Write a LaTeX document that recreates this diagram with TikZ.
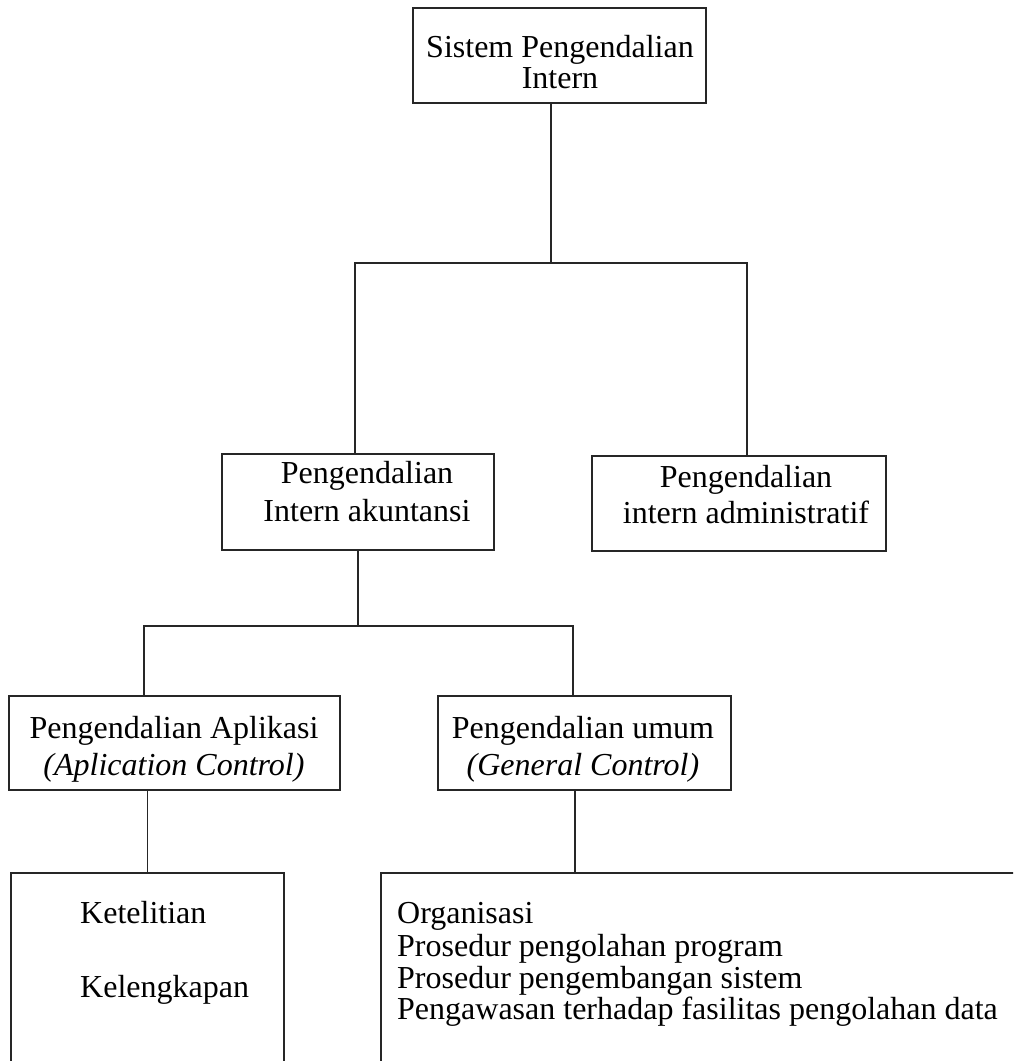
\documentclass[tikz,border=0pt]{standalone}
\usepackage{fontspec}
\setmainfont{Liberation Serif}

\tikzset{
  frame/.style={draw=black!85, line width=1.2pt, inner sep=0pt},
  teks/.style={font=\fontsize{32}{32}\selectfont, inner sep=0pt, align=center},
  daftar/.style={font=\fontsize{32}{32}\selectfont, inner sep=0pt, anchor=base west},
  garis/.style={draw=black!85, line width=1.2pt},
}

\begin{document}
\begin{tikzpicture}[x=1pt, y=-1pt]
\useasboundingbox (0,0) rectangle (1013,1061);
\clip (0,0) rectangle (1013,1061);

% kotak atas
\node[frame, minimum width=293pt, minimum height=95pt] (spi) at (559.5,55.5) {};
\node[teks, anchor=base] (spi-t) at (560,88) {Sistem Pengendalian\\[-1pt]Intern};

% baris kedua
\node[frame, minimum width=272pt, minimum height=96pt] (aku) at (358,502) {};
\node[teks, anchor=base] (aku-t) at (367,521) {Pengendalian\\[6pt]Intern akuntansi};
\node[frame, minimum width=294pt, minimum height=95pt] (adm) at (739,503.5) {};
\node[teks, anchor=base] (adm-t) at (746,523) {Pengendalian\\[4pt]intern administratif};

% baris ketiga
\node[frame, minimum width=331pt, minimum height=94pt] (apl) at (174.5,743) {};
\node[teks, anchor=base] (apl-t) at (174,775) {Pengendalian Aplikasi\\[5pt]\textit{(Aplication Control)}};
\node[frame, minimum width=293pt, minimum height=94pt] (umm) at (584.5,743) {};
\node[teks, anchor=base] (umm-t) at (583,775) {Pengendalian umum\\[5pt]\textit{(General Control)}};

% baris bawah (terpotong di tepi)
\node[frame, minimum width=273pt, minimum height=230pt] (rinci) at (147.5,988) {};
\node[daftar] (teliti) at (80,923) {Ketelitian};
\node[daftar] (lengkap) at (80,997) {Kelengkapan};
\node[frame, minimum width=680pt, minimum height=230pt] (umum) at (721,988) {};
\node[daftar] (org) at (397,923) {Organisasi};
\node[daftar] (olah) at (397,956) {Prosedur pengolahan program};
\node[daftar] (kembang) at (397,988) {Prosedur pengembangan sistem};
\node[daftar] (awas) at (397,1019) {Pengawasan terhadap fasilitas pengolahan data};

% titik cabang
\coordinate (j1) at (551,263);
\coordinate (b1l) at (355,263);
\coordinate (b1r) at (747,263);
\coordinate (j2) at (358,626);
\coordinate (b2l) at (144,626);
\coordinate (b2r) at (573,626);
\coordinate (j4) at (575,873);

% garis penghubung
\draw[garis] (spi.south -| j1) -- (j1);
\draw[garis] (aku.north -| b1l) |- (b1r) -- (adm.north -| b1r);
\draw[garis] (aku.south) -- (j2);
\draw[garis] (apl.north -| b2l) |- (b2r) -- (umm.north -| b2r);
\draw[garis] (apl.south -| rinci.north) -- (rinci.north);
\draw[garis] (umm.south -| j4) -- (j4);
\end{tikzpicture}
\end{document}
